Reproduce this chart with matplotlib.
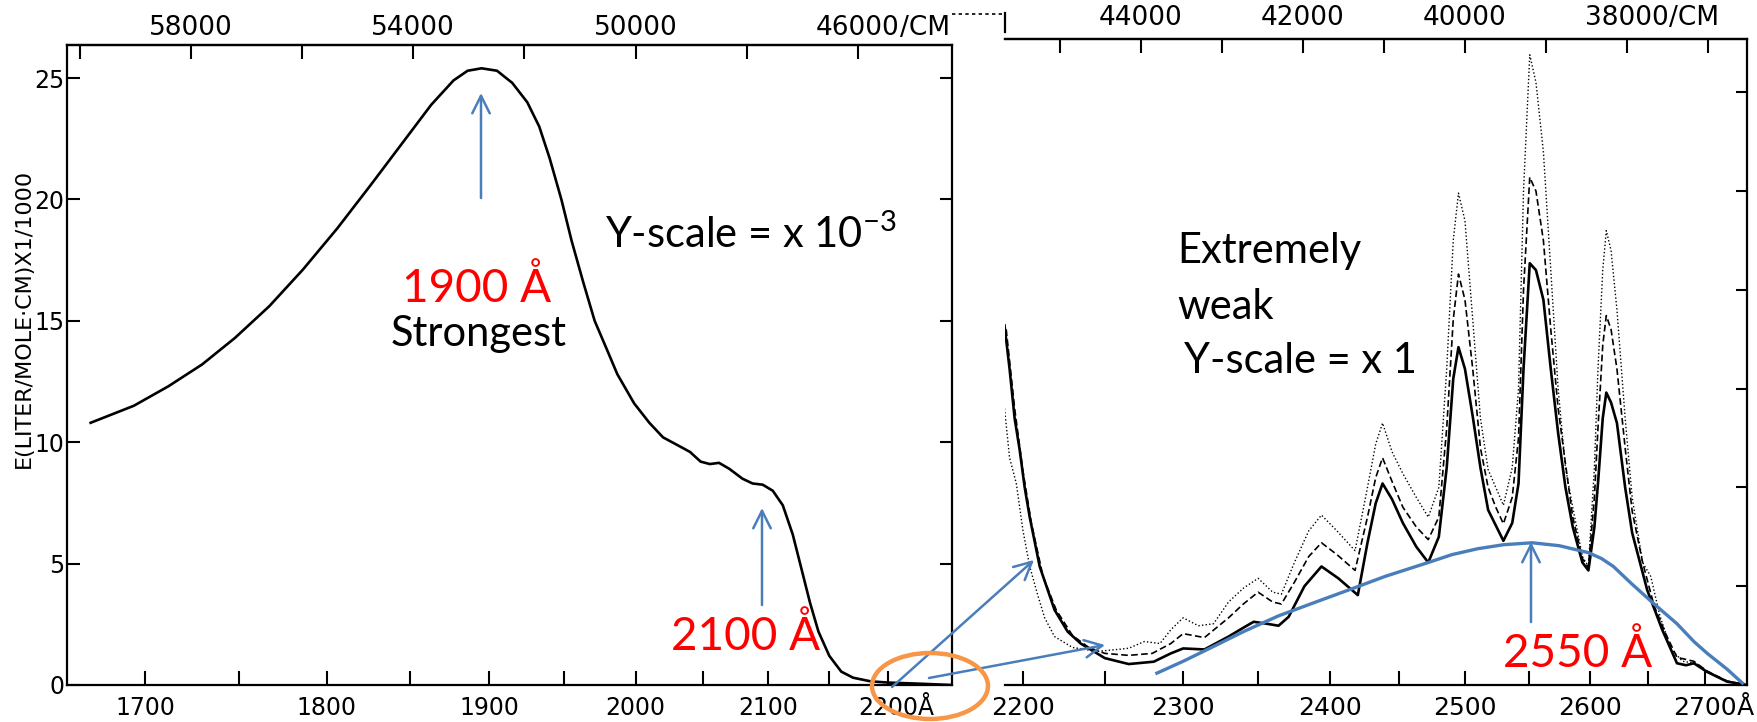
import numpy as np
import matplotlib
matplotlib.use("Agg")
import matplotlib.pyplot as plt
from matplotlib.patches import Ellipse, FancyArrowPatch

# ---------------- data ----------------
# Left panel: strong band, E x 1/1000 vs wavelength (Angstrom)
left_wl = [1672, 1694, 1712, 1730, 1748, 1767, 1786, 1806, 1826, 1846, 1863, 1877,
           1886, 1895, 1905, 1915, 1925, 1933, 1940, 1948, 1955, 1963, 1971, 1979,
           1987, 1999, 2010, 2020, 2030, 2040, 2048, 2055, 2062, 2070, 2080, 2088,
           2096, 2104, 2112, 2120, 2127, 2134, 2141, 2150, 2160, 2170, 2185, 2200,
           2230, 2256]
left_E = [10.8, 11.5, 12.3, 13.2, 14.3, 15.6, 17.1, 18.8, 20.6, 22.4, 23.9, 24.9,
          25.3, 25.4, 25.3, 24.8, 24.0, 23.0, 21.7, 20.0, 18.3, 16.6, 15.0, 13.9,
          12.8, 11.6, 10.8, 10.2, 9.9, 9.6, 9.2, 9.1, 9.15, 8.9, 8.5, 8.3,
          8.25, 8.0, 7.4, 6.2, 4.8, 3.4, 2.2, 1.2, 0.55, 0.3, 0.15, 0.1,
          0.05, 0.0]

# Right panel: weak band, three traces (solid, dashed, dotted)
solid_wl = [2189, 2192, 2195, 2198, 2201, 2204, 2210, 2219, 2227, 2235, 2250, 2265,
            2281, 2292, 2300, 2314, 2330, 2340, 2347, 2356, 2364, 2371, 2382, 2394,
            2406, 2420, 2427, 2433, 2438, 2445, 2453, 2463, 2472, 2480, 2486, 2491,
            2495, 2500, 2506, 2512, 2518, 2530, 2537, 2542, 2546, 2551, 2556, 2562,
            2568, 2574, 2580, 2586, 2594, 2599, 2604, 2607, 2611, 2614, 2618, 2623,
            2630, 2636, 2649, 2662, 2675, 2683, 2690, 2702, 2720, 2738]
solid_E = [182, 160, 135, 119, 100, 85, 60, 38, 27, 21, 13.6, 10.6,
           11.8, 16, 18.5, 18, 24.5, 29, 32, 31, 30, 34.5, 50, 60,
           54, 45.5, 72, 92, 102, 94, 82, 70, 62, 75, 110, 155,
           171, 160, 136, 110, 88.6, 73, 82, 102, 160, 213.5, 210, 195,
           160, 127.5, 100, 80, 62, 58, 80, 102, 135, 148, 143, 132.6,
           100, 77, 48, 28, 11, 10, 11, 6.6, 1.7, 0]

dashed_wl = [2190, 2195, 2200, 2205, 2212, 2220, 2230, 2240, 2250, 2265, 2280, 2292,
             2300, 2314, 2330, 2340, 2350, 2360, 2366, 2375, 2385, 2394, 2405, 2418,
             2427, 2433, 2438, 2445, 2453, 2463, 2472, 2480, 2486, 2491, 2495, 2500,
             2506, 2512, 2518, 2524, 2530, 2537, 2542, 2546, 2551, 2556, 2562, 2568,
             2574, 2580, 2586, 2594, 2599, 2604, 2607, 2611, 2614, 2618, 2623, 2630,
             2636, 2645, 2655, 2665, 2675, 2690, 2702, 2720, 2738]
dashed_E = [180, 140, 108, 82, 55, 38, 25, 19, 16, 15, 16, 21,
            26, 24, 34, 41, 47, 42, 41, 52, 65, 72, 66, 58,
            85, 105, 115, 103, 90, 80, 73.6, 85, 130, 185, 208, 195,
            160, 120, 100, 90, 81.6, 95, 125, 200, 257, 250, 225, 180,
            140, 112, 85, 64, 59.5, 95, 130, 172, 187, 180, 160, 120,
            88, 62, 40, 26, 14, 12, 7, 2, 0]

dotted_wl = [2189, 2192, 2196, 2200, 2204, 2209, 2213, 2219, 2230, 2245, 2258, 2265,
             2275, 2285, 2292, 2300, 2310, 2320, 2330, 2340, 2350, 2360, 2366, 2375,
             2385, 2394, 2405, 2418, 2427, 2433, 2438, 2445, 2453, 2463, 2472, 2480,
             2486, 2491, 2495, 2500, 2506, 2512, 2518, 2524, 2530, 2537, 2542, 2546,
             2551, 2556, 2562, 2568, 2574, 2580, 2586, 2594, 2599, 2604, 2607, 2611,
             2614, 2618, 2623, 2630, 2636, 2645, 2652, 2660, 2670, 2680, 2692, 2702,
             2720, 2738]
dotted_E = [140, 115, 102, 78, 60, 45, 34, 24.5, 19, 17, 18, 18.6,
            22, 21, 28, 34, 30, 31, 42, 49, 54, 47, 46, 62,
            78, 86, 78, 68, 100, 122, 132.6, 118, 107, 95, 85, 100,
            160, 225, 249, 235, 185, 135, 109, 100, 91, 110, 150, 250,
            319, 305, 270, 210, 150, 110, 90, 65, 60, 110, 160, 210,
            230, 220, 190, 135, 95, 62, 55, 35, 18, 12, 11, 7,
            2, 0]

# hand-drawn blue envelope of the weak band
env_wl = [2283, 2300, 2320, 2340, 2364, 2390, 2413, 2440, 2472, 2490, 2510, 2530,
          2553, 2575, 2599, 2610, 2620, 2636, 2655, 2675, 2690, 2702, 2720, 2734]
env_E = [6, 12, 19.5, 27, 35, 42, 48, 55, 62, 66, 69, 71,
         72, 70.5, 67, 64, 60, 51, 41, 31, 22, 16, 8, 1]

# tick labels
left_bottom_wl = [1700, 1750, 1800, 1850, 1900, 1950, 2000, 2050, 2100, 2150, 2200]
left_top_wn = [60000, 58000, 56000, 54000, 52000, 50000, 48000, 46000]
left_top_labels = ["", "58000", "", "54000", "", "50000", "", "46000"]
left_y_ticks = [0, 5, 10, 15, 20, 25]
right_bottom_wl = [2200, 2250, 2300, 2350, 2400, 2450, 2500, 2550, 2600, 2650, 2700]
right_top_wn = [45000, 44000, 43000, 42000, 41000, 40000, 39000, 38000, 37000]
right_top_labels = ["", "44000", "", "42000", "", "40000", "", "38000", ""]
right_y_ticks = [0, 50, 100, 150, 200, 250, 300]

# ---------------- figure ----------------
W, H = 1758, 722
DPI = 100
fig = plt.figure(figsize=(W / DPI, H / DPI), dpi=DPI)
fig.patch.set_facecolor("white")

TICKFONT = ["Liberation Sans Narrow", "DejaVu Sans"]
ANNFONT = ["Lato", "DejaVu Sans"]
BLUE = "#4A7EBB"
RED = "#FF0000"
ORANGE = "#F79646"
plt.rcParams["mathtext.fontset"] = "custom"
plt.rcParams["mathtext.rm"] = "Lato"
plt.rcParams["mathtext.it"] = "Lato:italic"


def px_rect(x0, y0, x1, y1):
    return [x0 / W, 1 - y1 / H, (x1 - x0) / W, (y1 - y0) / H]


def wn(wl):
    return 1e8 / np.asarray(wl, dtype=float)


def fmt_wl(vals):
    return [str(v) if v % 100 == 0 else "" for v in vals]


# ---- left panel ----
axL = fig.add_axes(px_rect(67, 45, 952, 685))
axL.plot(wn(left_wl), left_E, color="black", lw=1.9, solid_joinstyle="round")
axL.set_xlim(60234, 44303)
axL.set_ylim(0, 26.36)
axL.set_xticks(wn(left_bottom_wl))
axL.set_xticklabels(fmt_wl(left_bottom_wl), family=TICKFONT, fontsize=17)
axL.set_yticks(left_y_ticks)
axL.set_yticklabels([str(v) for v in left_y_ticks], family=TICKFONT, fontsize=17)
axL.tick_params(axis="x", direction="in", length=10, width=1.5, pad=8)
axL.tick_params(axis="y", direction="in", length=9, width=1.5, pad=2, right=True)
secL = axL.secondary_xaxis("top")
secL.set_xticks(left_top_wn)
secL.set_xticklabels(left_top_labels, family=TICKFONT, fontsize=19)
secL.tick_params(direction="in", length=10, width=1.5, pad=3)
for sp in list(axL.spines.values()) + list(secL.spines.values()):
    sp.set_linewidth(1.6)

# ---- right panel ----
axR = fig.add_axes(px_rect(1005, 39, 1747, 685))
axR.plot(wn(dotted_wl), dotted_E, color="black", lw=1.0, linestyle=(0, (1, 1.6)))
axR.plot(wn(dashed_wl), dashed_E, color="black", lw=1.2, linestyle=(0, (4, 2)))
axR.plot(wn(solid_wl), solid_E, color="black", lw=1.9)
axR.plot(wn(env_wl), env_E, color=BLUE, lw=2.4, clip_on=False, zorder=5)
axR.set_xlim(45677, 36519)
axR.set_ylim(0, 327)
axR.set_xticks(wn(right_bottom_wl))
axR.set_xticklabels(fmt_wl(right_bottom_wl), family=TICKFONT, fontsize=18)
axR.tick_params(axis="x", direction="in", length=10, width=1.5, pad=8)
axR.yaxis.tick_right()
axR.set_yticks(right_y_ticks)
axR.set_yticklabels([])
axR.tick_params(axis="y", direction="in", length=8, width=1.5)
axR.spines["left"].set_visible(False)
secR = axR.secondary_xaxis("top")
secR.set_xticks(right_top_wn)
secR.set_xticklabels(right_top_labels, family=TICKFONT, fontsize=19)
secR.tick_params(direction="in", length=10, width=1.5, pad=6)
for sp in list(axR.spines.values()) + list(secR.spines.values()):
    sp.set_linewidth(1.6)

# ---- overlay for annotations (pixel coordinates) ----
ov = fig.add_axes([0, 0, 1, 1], zorder=10)
ov.set_xlim(0, W)
ov.set_ylim(H, 0)
ov.axis("off")
ov.patch.set_alpha(0)

ov.text(24, 318, "E(LITER/MOLE\u00b7CM)X1/1000", rotation=90, ha="center", va="center",
        family=TICKFONT, fontsize=16)

# remnant of hidden label between panels
ov.plot([952, 1003], [14, 14], color="black", lw=1.2, linestyle=(0, (2, 2)))
ov.plot([1005, 1005], [13, 32], color="black", lw=1.6)

arrows = [((481, 198), (481, 93)), ((762, 605), (762, 508)), ((1531, 622), (1531, 542)),
          ((892, 687), (1034, 560)), ((929, 678), (1105, 645))]
for (p0, p1) in arrows:
    ov.add_patch(FancyArrowPatch(p0, p1, arrowstyle="->,head_length=0.9,head_width=0.45",
                                 color=BLUE, lw=1.8, mutation_scale=14, shrinkA=0, shrinkB=0))

ov.add_patch(Ellipse((930, 686), 116, 66, fill=False, ec=ORANGE, lw=3.2))

ov.text(477, 302, "1900 \u00c5", color=RED, ha="center", va="baseline", family=ANNFONT, fontsize=33)
ov.text(479, 346, "Strongest", color="black", ha="center", va="baseline", family=ANNFONT, fontsize=30)
ov.text(746, 650, "2100 \u00c5", color=RED, ha="center", va="baseline", family=ANNFONT, fontsize=33)
ov.text(1578, 667, "2550 \u00c5", color=RED, ha="center", va="baseline", family=ANNFONT, fontsize=33)
ov.text(605, 248, "Y-scale = x 10$^{\\mathrm{-3}}$", color="black", ha="left", va="baseline",
        family=ANNFONT, fontsize=30)
ov.text(1177, 263, "Extremely", color="black", ha="left", va="baseline", family=ANNFONT, fontsize=30)
ov.text(1177, 319, "weak", color="black", ha="left", va="baseline", family=ANNFONT, fontsize=30)
ov.text(1184, 373, "Y-scale = x 1", color="black", ha="left", va="baseline", family=ANNFONT, fontsize=30)

# suffixes after selected tick labels ("/CM", "Å")
fig.canvas.draw()


def add_suffix(labels, target, suffix, fs):
    for lab in labels:
        if lab.get_text() == target:
            bb = lab.get_window_extent()
            fig.text(bb.x1 / W, bb.y0 / H, suffix, ha="left", va="bottom",
                     family=TICKFONT, fontsize=fs)


add_suffix(secL.get_xticklabels(), "46000", "/CM", 19)
add_suffix(secR.get_xticklabels(), "38000", "/CM", 19)
add_suffix(axL.get_xticklabels(), "2200", "\u00c5", 17)
add_suffix(axR.get_xticklabels(), "2700", "\u00c5", 18)

fig.savefig("out.png", dpi=DPI, facecolor="white")
